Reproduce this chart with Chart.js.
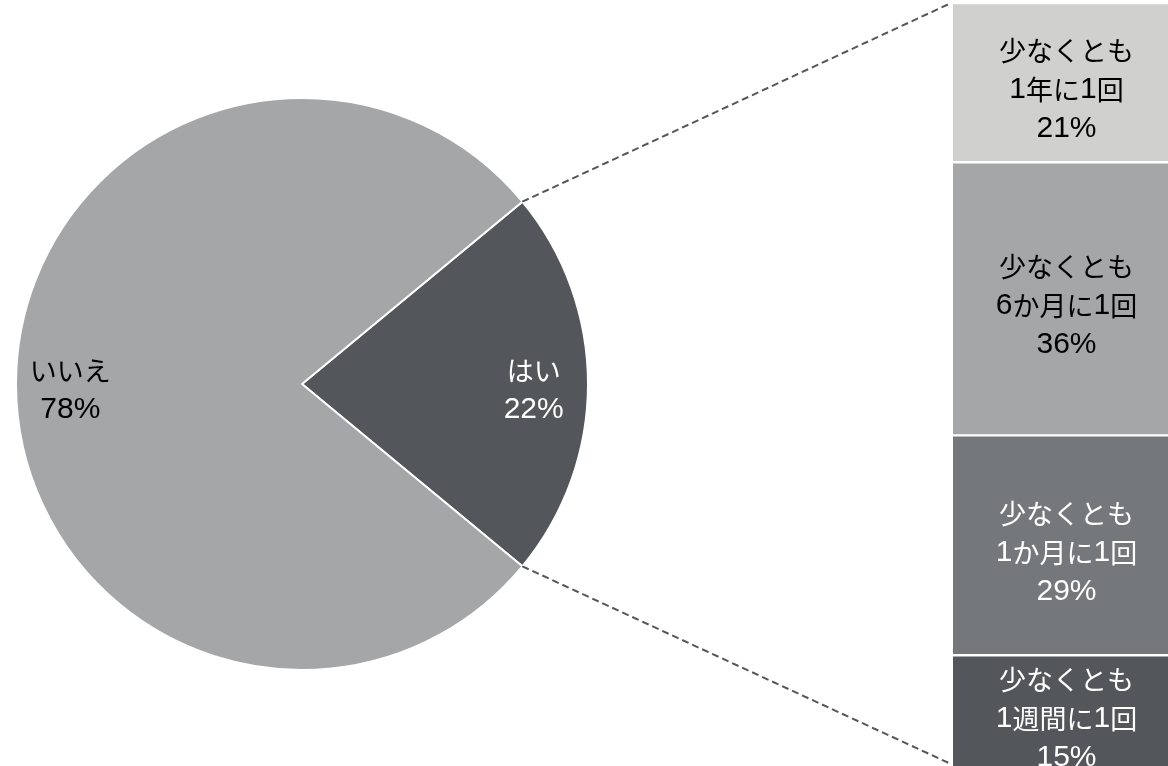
<!DOCTYPE html>
<html>
<head>
<meta charset="utf-8">
<script src="https://cdn.jsdelivr.net/npm/chart.js@4"></script>
<style>
  html, body { margin: 0; padding: 0; background: #fff; }
  #wrap { position: relative; width: 1168px; height: 766px; overflow: hidden; background: #fff; }
  #wrap canvas { position: absolute; left: 0; top: 0; }
</style>
</head>
<body>
<div id="wrap">
  <canvas id="pieChart" width="1168" height="766"></canvas>
  <canvas id="barChart" width="1200" height="800"></canvas>
</div>
<script>
// 円グラフ（はい／いいえ）
const pieLabels = ['はい', 'いいえ'];
const pieValues = [22, 78];
const pieColors = ['#53565a', '#a5a6a8'];
const pieTextColors = ['#ffffff', '#000000'];

// 内訳（上から順）
const freqLabels = [
  ['少なくとも', '1年に1回'],
  ['少なくとも', '6か月に1回'],
  ['少なくとも', '1か月に1回'],
  ['少なくとも', '1週間に1回']
];
const freqValues = [21, 36, 29, 15];
const freqColors = ['#d0d0ce', '#a5a6a8', '#75787b', '#53565a'];
const freqTextColors = ['#000000', '#000000', '#ffffff', '#ffffff'];

const LATIN_FONT = '30px "Liberation Sans", Arial, sans-serif';
const CJK_FONT = '27px "Noto Sans CJK JP", sans-serif';
const LINE_H = 39;
const TEXT_DY = 7;

// 英数字と日本語でフォントを分けて1行を描く
function drawMixed(ctx, text, cx, y) {
  const runs = text.match(/[\x00-\x7F]+|[^\x00-\x7F]+/g) || [];
  const parts = runs.map(r => {
    ctx.font = /^[\x00-\x7F]/.test(r) ? LATIN_FONT : CJK_FONT;
    return { r, font: ctx.font, w: ctx.measureText(r).width };
  });
  let x = cx - parts.reduce((s, p) => s + p.w, 0) / 2;
  parts.forEach(p => {
    ctx.font = p.font;
    ctx.fillText(p.r, x, y);
    x += p.w;
  });
}

function drawLines(ctx, lines, x, y, color) {
  ctx.save();
  ctx.fillStyle = color;
  ctx.textAlign = 'left';
  ctx.textBaseline = 'middle';
  const top = y + TEXT_DY - (lines.length - 1) * LINE_H / 2;
  lines.forEach((t, i) => drawMixed(ctx, t, x, top + i * LINE_H));
  ctx.restore();
}

const pieLabelPlugin = {
  id: 'pieLabels',
  afterDatasetsDraw(chart) {
    const ctx = chart.ctx;
    chart.getDatasetMeta(0).data.forEach((arc, i) => {
      const mid = (arc.startAngle + arc.endAngle) / 2;
      const r = arc.outerRadius * 0.81;
      const x = arc.x + Math.cos(mid) * r;
      const y = arc.y + Math.sin(mid) * r;
      drawLines(ctx, [pieLabels[i], pieValues[i] + '%'], x, y - 1, pieTextColors[i]);
    });
  }
};

const pieChart = new Chart(document.getElementById('pieChart'), {
  type: 'pie',
  data: {
    labels: pieLabels,
    datasets: [{
      data: pieValues,
      backgroundColor: pieColors,
      borderColor: '#ffffff',
      borderWidth: 2
    }]
  },
  options: {
    responsive: false,
    animation: false,
    rotation: 90 - pieValues[0] * 3.6 / 2,
    layout: { padding: { left: 15, top: 97, right: 579, bottom: 95 } },
    plugins: { legend: { display: false }, tooltip: { enabled: false } }
  },
  plugins: [pieLabelPlugin]
});

// 積み上げは下から描くので逆順にする
const order = freqValues.map((v, i) => i).reverse();

const barLabelPlugin = {
  id: 'barLabels',
  afterDatasetsDraw(chart) {
    const ctx = chart.ctx;
    chart.data.datasets.forEach((ds, di) => {
      const bar = chart.getDatasetMeta(di).data[0];
      const k = order[di];
      const cy = (bar.y + bar.base) / 2;
      drawLines(ctx, [...freqLabels[k], freqValues[k] + '%'], bar.x, cy, freqTextColors[k]);
    });
  },
  afterDraw(chart) {
    const ctx = chart.ctx;
    const arc = pieChart.getDatasetMeta(0).data[0];
    const R = arc.outerRadius;
    const topBar = chart.getDatasetMeta(chart.data.datasets.length - 1).data[0];
    const botBar = chart.getDatasetMeta(0).data[0];
    const left = topBar.x - topBar.width / 2;
    ctx.save();
    ctx.strokeStyle = '#53565a';
    ctx.lineWidth = 2;
    ctx.setLineDash([7, 4]);
    ctx.beginPath();
    ctx.moveTo(arc.x + Math.cos(arc.startAngle) * R, arc.y + Math.sin(arc.startAngle) * R);
    ctx.lineTo(left - 4, topBar.y + 1);
    ctx.moveTo(arc.x + Math.cos(arc.endAngle) * R, arc.y + Math.sin(arc.endAngle) * R);
    ctx.lineTo(left - 2, botBar.base - 5);
    ctx.stroke();
    ctx.restore();
  }
};

new Chart(document.getElementById('barChart'), {
  type: 'bar',
  data: {
    labels: [''],
    datasets: order.map(k => ({
      data: [freqValues[k]],
      backgroundColor: freqColors[k],
      borderColor: '#ffffff',
      borderWidth: { top: 1.5, bottom: 1.5, left: 0, right: 0 },
      borderSkipped: false,
      barPercentage: 1,
      categoryPercentage: 1
    }))
  },
  options: {
    responsive: false,
    animation: false,
    layout: { padding: { left: 953, right: 20, top: 3, bottom: 31 } },
    scales: {
      x: { display: false, stacked: true },
      y: { display: false, stacked: true, min: 0, max: 101 }
    },
    plugins: { legend: { display: false }, tooltip: { enabled: false } }
  },
  plugins: [barLabelPlugin]
});
</script>
</body>
</html>
